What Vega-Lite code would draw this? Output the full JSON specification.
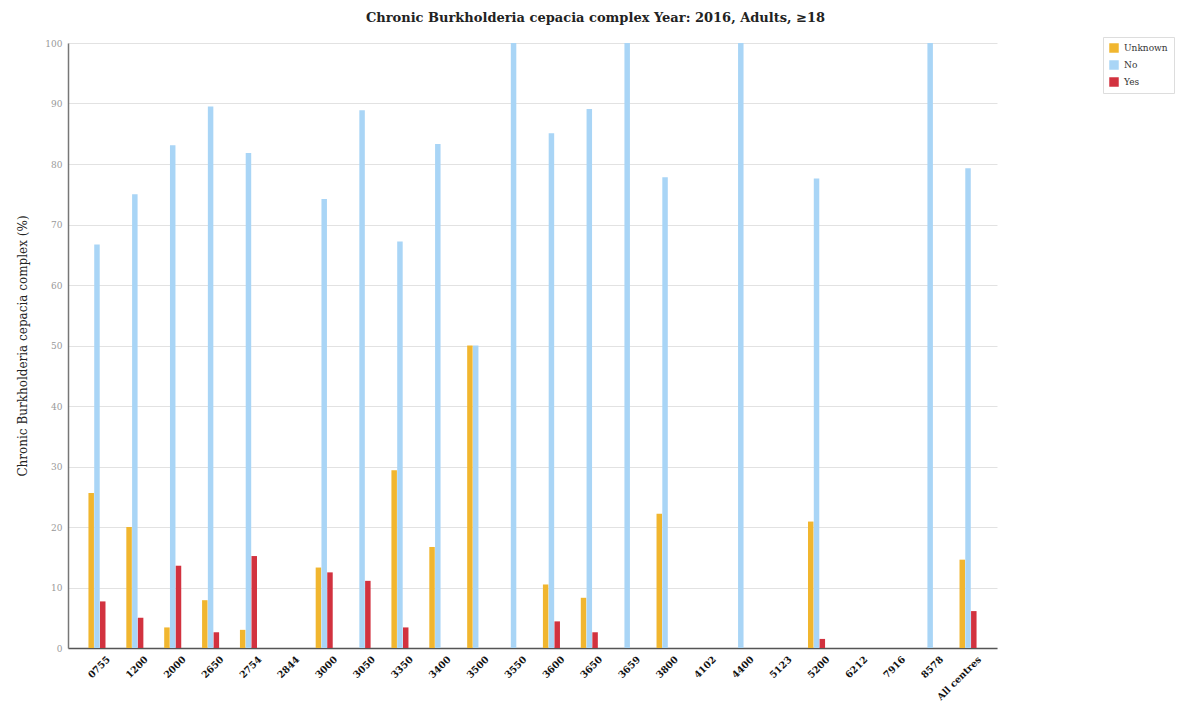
{
  "$schema": "https://vega.github.io/schema/vega-lite/v6.json",
  "width": 929,
  "height": 605,
  "autosize": "none",
  "padding": {"left": 68, "top": 43, "right": 194, "bottom": 53},
  "background": "#ffffff",
  "title": {
    "text": "Chronic Burkholderia cepacia complex Year: 2016, Adults, ≥18",
    "font": "DejaVu Serif",
    "fontSize": 13,
    "fontWeight": "bold",
    "color": "#222222",
    "anchor": "middle",
    "dx": 63,
    "offset": 12
  },
  "data": {
    "values": [
      {"centre": "0755", "type": "Unknown", "value": 25.6},
      {"centre": "0755", "type": "No", "value": 66.7},
      {"centre": "0755", "type": "Yes", "value": 7.7},
      {"centre": "1200", "type": "Unknown", "value": 20.0},
      {"centre": "1200", "type": "No", "value": 75.0},
      {"centre": "1200", "type": "Yes", "value": 5.0},
      {"centre": "2000", "type": "Unknown", "value": 3.4},
      {"centre": "2000", "type": "No", "value": 83.1},
      {"centre": "2000", "type": "Yes", "value": 13.6},
      {"centre": "2650", "type": "Unknown", "value": 7.9},
      {"centre": "2650", "type": "No", "value": 89.5},
      {"centre": "2650", "type": "Yes", "value": 2.6},
      {"centre": "2754", "type": "Unknown", "value": 3.0},
      {"centre": "2754", "type": "No", "value": 81.8},
      {"centre": "2754", "type": "Yes", "value": 15.2},
      {"centre": "3000", "type": "Unknown", "value": 13.3},
      {"centre": "3000", "type": "No", "value": 74.2},
      {"centre": "3000", "type": "Yes", "value": 12.5},
      {"centre": "3050", "type": "No", "value": 88.9},
      {"centre": "3050", "type": "Yes", "value": 11.1},
      {"centre": "3350", "type": "Unknown", "value": 29.4},
      {"centre": "3350", "type": "No", "value": 67.2},
      {"centre": "3350", "type": "Yes", "value": 3.4},
      {"centre": "3400", "type": "Unknown", "value": 16.7},
      {"centre": "3400", "type": "No", "value": 83.3},
      {"centre": "3500", "type": "Unknown", "value": 50.0},
      {"centre": "3500", "type": "No", "value": 50.0},
      {"centre": "3550", "type": "No", "value": 100.0},
      {"centre": "3600", "type": "Unknown", "value": 10.5},
      {"centre": "3600", "type": "No", "value": 85.1},
      {"centre": "3600", "type": "Yes", "value": 4.4},
      {"centre": "3650", "type": "Unknown", "value": 8.3},
      {"centre": "3650", "type": "No", "value": 89.1},
      {"centre": "3650", "type": "Yes", "value": 2.6},
      {"centre": "3659", "type": "No", "value": 100.0},
      {"centre": "3800", "type": "Unknown", "value": 22.2},
      {"centre": "3800", "type": "No", "value": 77.8},
      {"centre": "4400", "type": "No", "value": 100.0},
      {"centre": "5200", "type": "Unknown", "value": 20.9},
      {"centre": "5200", "type": "No", "value": 77.6},
      {"centre": "5200", "type": "Yes", "value": 1.5},
      {"centre": "8578", "type": "No", "value": 100.0},
      {"centre": "All centres", "type": "Unknown", "value": 14.6},
      {"centre": "All centres", "type": "No", "value": 79.3},
      {"centre": "All centres", "type": "Yes", "value": 6.1}
    ]
  },
  "mark": {"type": "bar"},
  "encoding": {
    "x": {
      "field": "centre",
      "type": "nominal",
      "sort": null,
      "scale": {
        "domain": ["0755", "1200", "2000", "2650", "2754", "2844", "3000", "3050", "3350", "3400", "3500", "3550", "3600", "3650", "3659", "3800", "4102", "4400", "5123", "5200", "6212", "7916", "8578", "All centres"],
        "paddingInner": 0.55,
        "paddingOuter": 0.54
      },
      "axis": {
        "title": null,
        "labelAngle": -45,
        "labelFont": "DejaVu Serif",
        "labelFontSize": 9.5,
        "labelFontWeight": "bold",
        "labelColor": "#111111",
        "labelOffset": 8,
        "labelPadding": 6,
        "ticks": false,
        "grid": false,
        "domainColor": "#555555",
        "domainWidth": 1.5
      }
    },
    "xOffset": {
      "field": "type",
      "type": "nominal",
      "scale": {"domain": ["Unknown", "No", "Yes"], "paddingInner": 0.05}
    },
    "y": {
      "field": "value",
      "type": "quantitative",
      "scale": {"domain": [0, 100], "nice": false},
      "axis": {
        "title": "Chronic Burkholderia cepacia complex (%)",
        "titleFont": "DejaVu Serif",
        "titleFontSize": 12,
        "titleFontWeight": "normal",
        "titleColor": "#222222",
        "titlePadding": 15,
        "values": [0, 10, 20, 30, 40, 50, 60, 70, 80, 90, 100],
        "labelFont": "DejaVu Serif",
        "labelFontSize": 9,
        "labelColor": "#999999",
        "labelPadding": 6,
        "ticks": false,
        "gridColor": "#e2e2e2",
        "gridWidth": 1,
        "domainColor": "#777777",
        "domainWidth": 1.5
      }
    },
    "color": {
      "field": "type",
      "type": "nominal",
      "scale": {
        "domain": ["Unknown", "No", "Yes"],
        "range": ["#f1b62f", "#a9d5f6", "#d2323f"]
      },
      "legend": {
        "title": null,
        "orient": "none",
        "legendX": 1035,
        "legendY": -6,
        "symbolType": "square",
        "symbolSize": 90,
        "labelFont": "DejaVu Serif",
        "labelFontSize": 9,
        "labelColor": "#333333",
        "labelOffset": 5,
        "rowPadding": 7,
        "padding": 6,
        "strokeColor": "#dddddd",
        "fillColor": "#ffffff",
        "symbolStrokeWidth": 0
      }
    }
  },
  "config": {
    "view": {"stroke": null}
  }
}
